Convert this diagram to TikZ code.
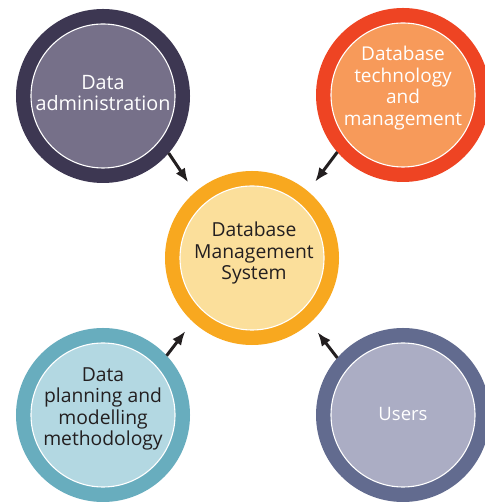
\documentclass[tikz,border=0pt]{standalone}
\usepackage{fontspec}
\setmainfont{Open Sans}
\usepackage{tikz}
\usetikzlibrary{arrows.meta}
\definecolor{adminRing}{HTML}{3D3752}
\definecolor{adminFill}{HTML}{767089}
\definecolor{techRing}{HTML}{EE4423}
\definecolor{techFill}{HTML}{F79A5A}
\definecolor{dbmsRing}{HTML}{F8A81F}
\definecolor{dbmsFill}{HTML}{FBDF9B}
\definecolor{planRing}{HTML}{68ADBE}
\definecolor{planFill}{HTML}{B3D8E2}
\definecolor{userRing}{HTML}{626B8F}
\definecolor{userFill}{HTML}{ABADC4}
\definecolor{darkText}{HTML}{231F20}

\begin{document}
\begin{tikzpicture}[x=1pt,y=1pt,
    ring/.style={circle, minimum size=144pt, inner sep=0pt, outer sep=15pt,
      draw=white, line width=1.1pt, fill=#1Fill,
      preaction={draw=#1Ring, line width=30pt}},
    caption/.style={align=center, inner sep=0pt, font=\fontsize{#1}{21.5}\selectfont},
    link/.style={-{Latex[length=14pt,width=11pt]}, line width=3pt, darkText, shorten >=12pt}]
    \useasboundingbox (0,0) rectangle (484,502);
    % rings
    \node[ring=dbms] (dbms) at (252,244) {};
    \node[ring=admin] (admin) at (103,406) {};
    \node[ring=tech] (tech) at (403,407) {};
    \node[ring=plan] (plan) at (103,87) {};
    \node[ring=user] (users) at (403,87) {};
    % texts
    \node[caption=19.3, text=darkText] (dbmsText) at ([xshift=2pt,yshift=5pt]dbms) {Database\\Management\\System};
    \node[caption=19.8, text=white] (adminText) at ([yshift=3pt]admin) {Data\\administration};
    \node[caption=19, text=white] (techText) at ([yshift=7pt]tech) {Database\\technology\\and\\management};
    \node[caption=19.3, text=darkText] (planText) at ([yshift=6pt]plan) {Data\\planning and\\modelling\\methodology};
    \node[caption=18.5, text=white] (usersText) at ([yshift=1pt]users) {Users};
    % arrows into the DBMS
    \draw[link] (admin.-41) -- (dbms.131);
    \draw[link] (tech.221) -- (dbms.50);
    \draw[link] (plan.43) -- (dbms.227);
    \draw[link] (users.139) -- (dbms.312);
\end{tikzpicture}
\end{document}
